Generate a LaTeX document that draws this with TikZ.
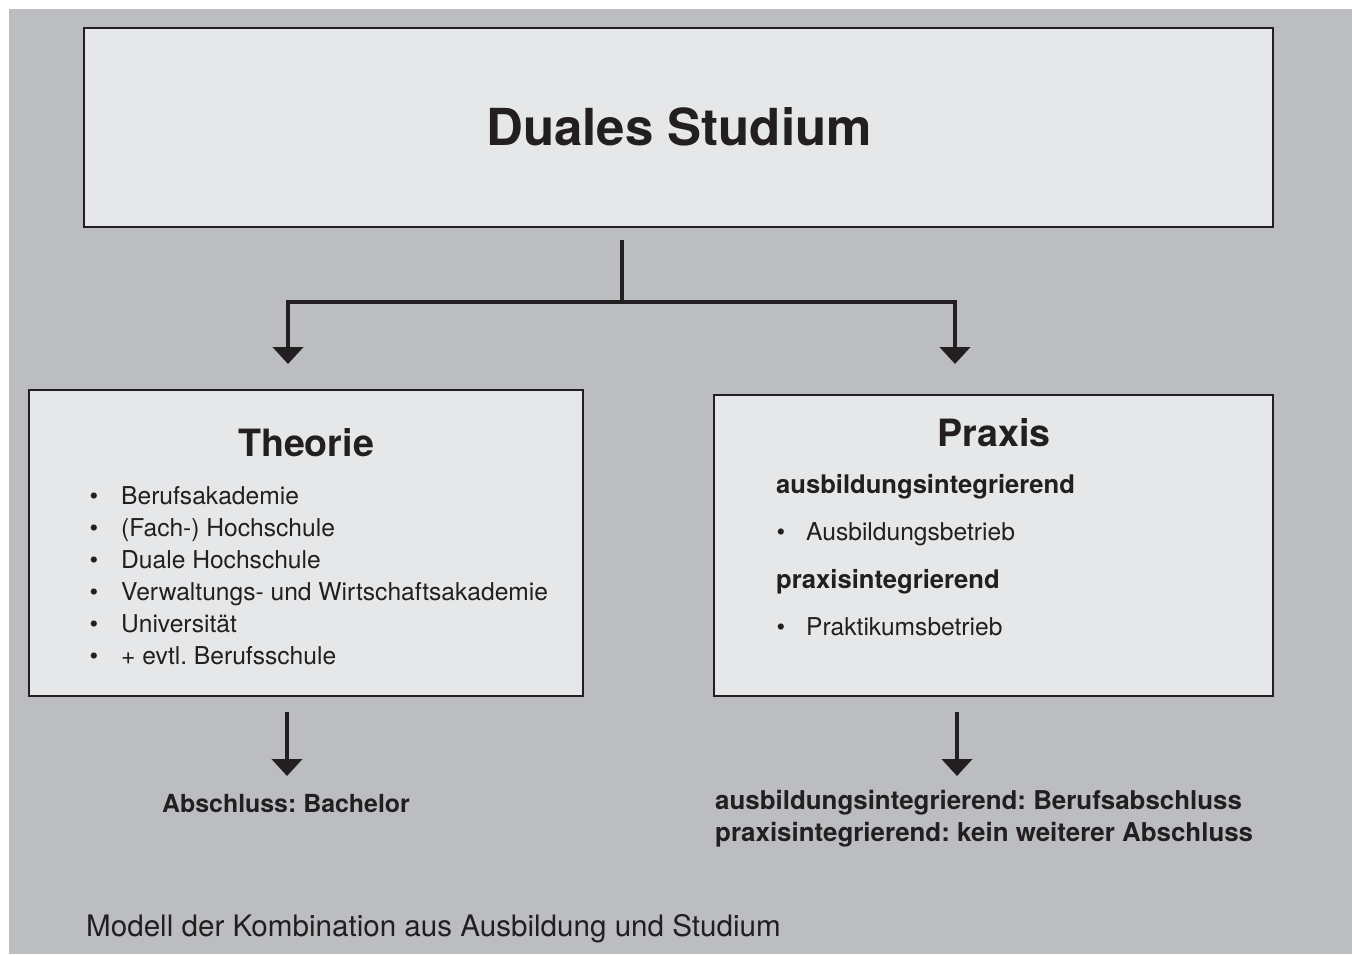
\documentclass[tikz,border=0pt]{standalone}
\usepackage{fontspec}
\setmainfont{TeX Gyre Heros}
\usetikzlibrary{arrows.meta}
\frenchspacing
\definecolor{bggray}{RGB}{188,189,193}
\definecolor{boxfill}{RGB}{230,231,232}
\definecolor{ink}{RGB}{35,31,32}
\tikzset{
  panel/.style={draw=ink, line width=1.2pt, fill=boxfill, rectangle, inner sep=0pt},
  conn/.style={draw=ink, line width=4.5pt, line join=miter},
  arr/.style={conn, -{Triangle[width=30pt,length=17pt]}},
  title/.style={anchor=base, text=ink, inner sep=0pt, font=\bfseries\fontsize{51}{60}\selectfont},
  head/.style={anchor=base, text=ink, inner sep=0pt, font=\bfseries\fontsize{37.6}{44}\selectfont},
  sub/.style={anchor=base west, text=ink, inner sep=0pt, font=\bfseries\fontsize{25.6}{30}\selectfont},
  item/.style={anchor=base west, text=ink, inner sep=0pt, font=\fontsize{24.6}{30}\selectfont},
  bul/.style={anchor=base, text=ink, inner sep=0pt, font=\fontsize{24.6}{30}\selectfont},
  caption/.style={anchor=base west, text=ink, inner sep=0pt, font=\fontsize{29.6}{34}\selectfont}
}
\begin{document}
\begin{tikzpicture}[x=1pt,y=-1pt]
\useasboundingbox (0,0) rectangle (1352,954);
\fill[bggray] (9,9) rectangle (1352,954);

% boxes
\node[panel, minimum width=1189pt, minimum height=199pt] (top) at (678.5,127.5) {};
\node[panel, minimum width=554pt, minimum height=306pt] (theorie) at (306,543) {};
\node[panel, minimum width=559pt, minimum height=301pt] (praxis) at (993.5,545.5) {};

% titles
\node[title] (ttop) at (679,145) {Duales Studium};
\node[head] (tth) at (306,456) {Theorie};
\node[head] (tpr) at (994,446) {Praxis};

% Theorie list
\foreach \y/\t [count=\i] in {504/Berufsakademie, 536/(Fach-) Hochschule, 568/Duale Hochschule, 600/Verwaltungs- und Wirtschaftsakademie, 632/Universität, 664/+ evtl. Berufsschule}{
  \node[bul] (tb\i) at (94,\y) {•};
  \node[item] (ti\i) at (121,\y) {\t};
}

% Praxis content
\node[sub] (pa) at (776,493) {ausbildungsintegrierend};
\node[bul] (pb1) at (781,540) {•};
\node[item] (pi1) at (806,540) {Ausbildungsbetrieb};
\node[sub] (pp) at (776,588) {praxisintegrierend};
\node[bul] (pb2) at (781,635) {•};
\node[item] (pi2) at (806,635) {Praktikumsbetrieb};

% connectors
\coordinate (t0) at (622,240);
\coordinate (hub) at (622,302);
\coordinate (lt) at (288,364);
\coordinate (rt) at (955,364);
\draw[conn] (t0) -- (hub);
\draw[arr] (hub) -| (lt);
\draw[arr] (hub) -| (rt);

\coordinate (lb0) at (287,712);
\coordinate (lb1) at (287,776);
\coordinate (rb0) at (957,712);
\coordinate (rb1) at (957,776);
\draw[arr] (lb0) -- (lb1);
\draw[arr] (rb0) -- (rb1);

% results
\node[anchor=base, text=ink, inner sep=0pt, font=\bfseries\fontsize{24.9}{30}\selectfont] (res1) at (286,812) {Abschluss: Bachelor};
\node[sub, font=\bfseries\fontsize{25.9}{30}\selectfont] (res2) at (715,809) {ausbildungsintegrierend: Berufsabschluss};
\node[sub, font=\bfseries\fontsize{25.9}{30}\selectfont] (res3) at (715,841) {praxisintegrierend: kein weiterer Abschluss};

% caption
\node[caption] (cap) at (86,936) {Modell der Kombination aus Ausbildung und Studium};
\end{tikzpicture}
\end{document}
